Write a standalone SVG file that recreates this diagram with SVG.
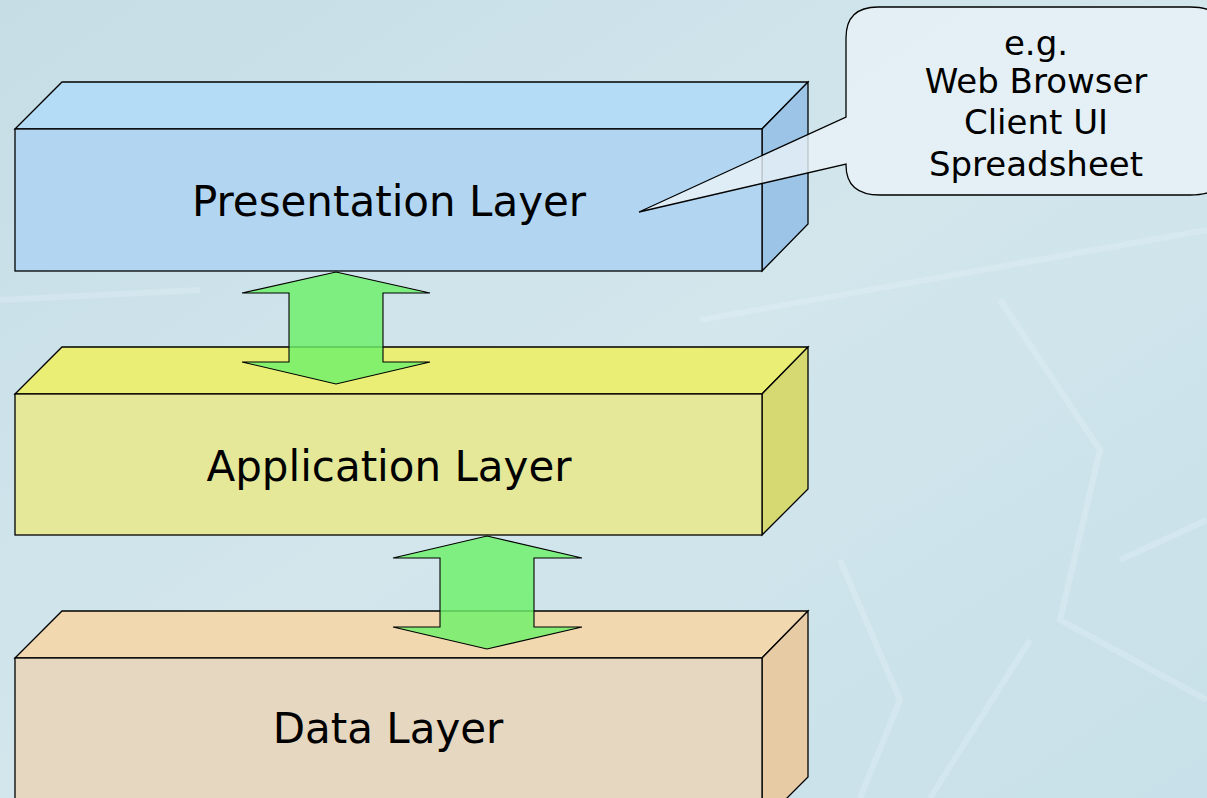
<svg xmlns="http://www.w3.org/2000/svg" width="1207" height="798" viewBox="0 0 1207 798">
<defs>
<linearGradient id="bg" x1="0" y1="0" x2="1" y2="1">
<stop offset="0" stop-color="#c6dde6"/>
<stop offset="0.5" stop-color="#d2e6ec"/>
<stop offset="1" stop-color="#c8e0e9"/>
</linearGradient>
<style>
.edge{stroke:#000;stroke-width:1.3;stroke-linejoin:miter}
.lbl{font-family:"DejaVu Sans",Verdana,sans-serif;fill:#000;text-anchor:middle}
.big{font-size:42px}
.small{font-size:34px}
.arrow{fill:#6cf06a;fill-opacity:0.82;stroke:#000;stroke-width:1.1}
</style>
</defs>
<rect width="1207" height="798" fill="url(#bg)"/>
<g opacity="0.22" fill="none" stroke="#f2fbff" stroke-width="6">
<path d="M700 320 L1207 230"/>
<path d="M1000 300 L1100 450 L1060 620 L1207 700"/>
<path d="M1030 640 L930 798"/>
<path d="M1120 560 L1207 520"/>
<path d="M840 560 L900 700 L860 798"/>
<path d="M0 300 L200 290"/>
</g>

<g id="presentation">
<polygon class="edge" points="15,129 62,82 808,82 762,129" fill="#b4dcf6"/>
<polygon class="edge" points="762,129 808,82 808,224 762,271" fill="#9cc4e6"/>
<rect class="edge" x="15" y="129" width="747" height="142" fill="#b2d6f2"/>
<text class="lbl big" x="389" y="216">Presentation Layer</text>
</g>

<g id="application">
<polygon class="edge" points="15,394 62,347 808,347 762,394" fill="#ebee74"/>
<polygon class="edge" points="762,394 808,347 808,489 762,535" fill="#d6d872"/>
<rect class="edge" x="15" y="394" width="747" height="141" fill="#e4e898"/>
<text class="lbl big" x="389" y="481">Application Layer</text>
</g>

<g id="data">
<polygon class="edge" points="15,658 62,611 808,611 762,658" fill="#f2d8ae"/>
<polygon class="edge" points="762,658 808,611 808,777 762,823" fill="#e6cba4"/>
<rect class="edge" x="15" y="658" width="747" height="160" fill="#e6d7c0"/>
<text class="lbl big" x="388" y="743">Data Layer</text>
</g>

<g id="callout">
<path class="edge" d="M878,7 L1190,7 Q1225,7 1225,35 L1225,170 Q1225,195 1190,195 L880,195 Q846,195 846,165 L846,164 L639,212 L846,117 L846,38 Q846,7 878,7 Z" fill="#e8f2f6" fill-opacity="0.82"/>
<text class="lbl small" x="1036" y="55">e.g.</text>
<text class="lbl small" x="1036" y="93">Web Browser</text>
<text class="lbl small" x="1036" y="134">Client UI</text>
<text class="lbl small" x="1036" y="176">Spreadsheet</text>
</g>

<g id="connectors">
<polygon class="arrow" points="336,272 430,293 383,293 383,362 430,362 336,384 242,362 289,362 289,293 242,293"/>
<polygon class="arrow" points="487,536 582,558 534,558 534,627 582,627 487,649 393,627 440,627 440,558 393,558"/>
</g>
</svg>
